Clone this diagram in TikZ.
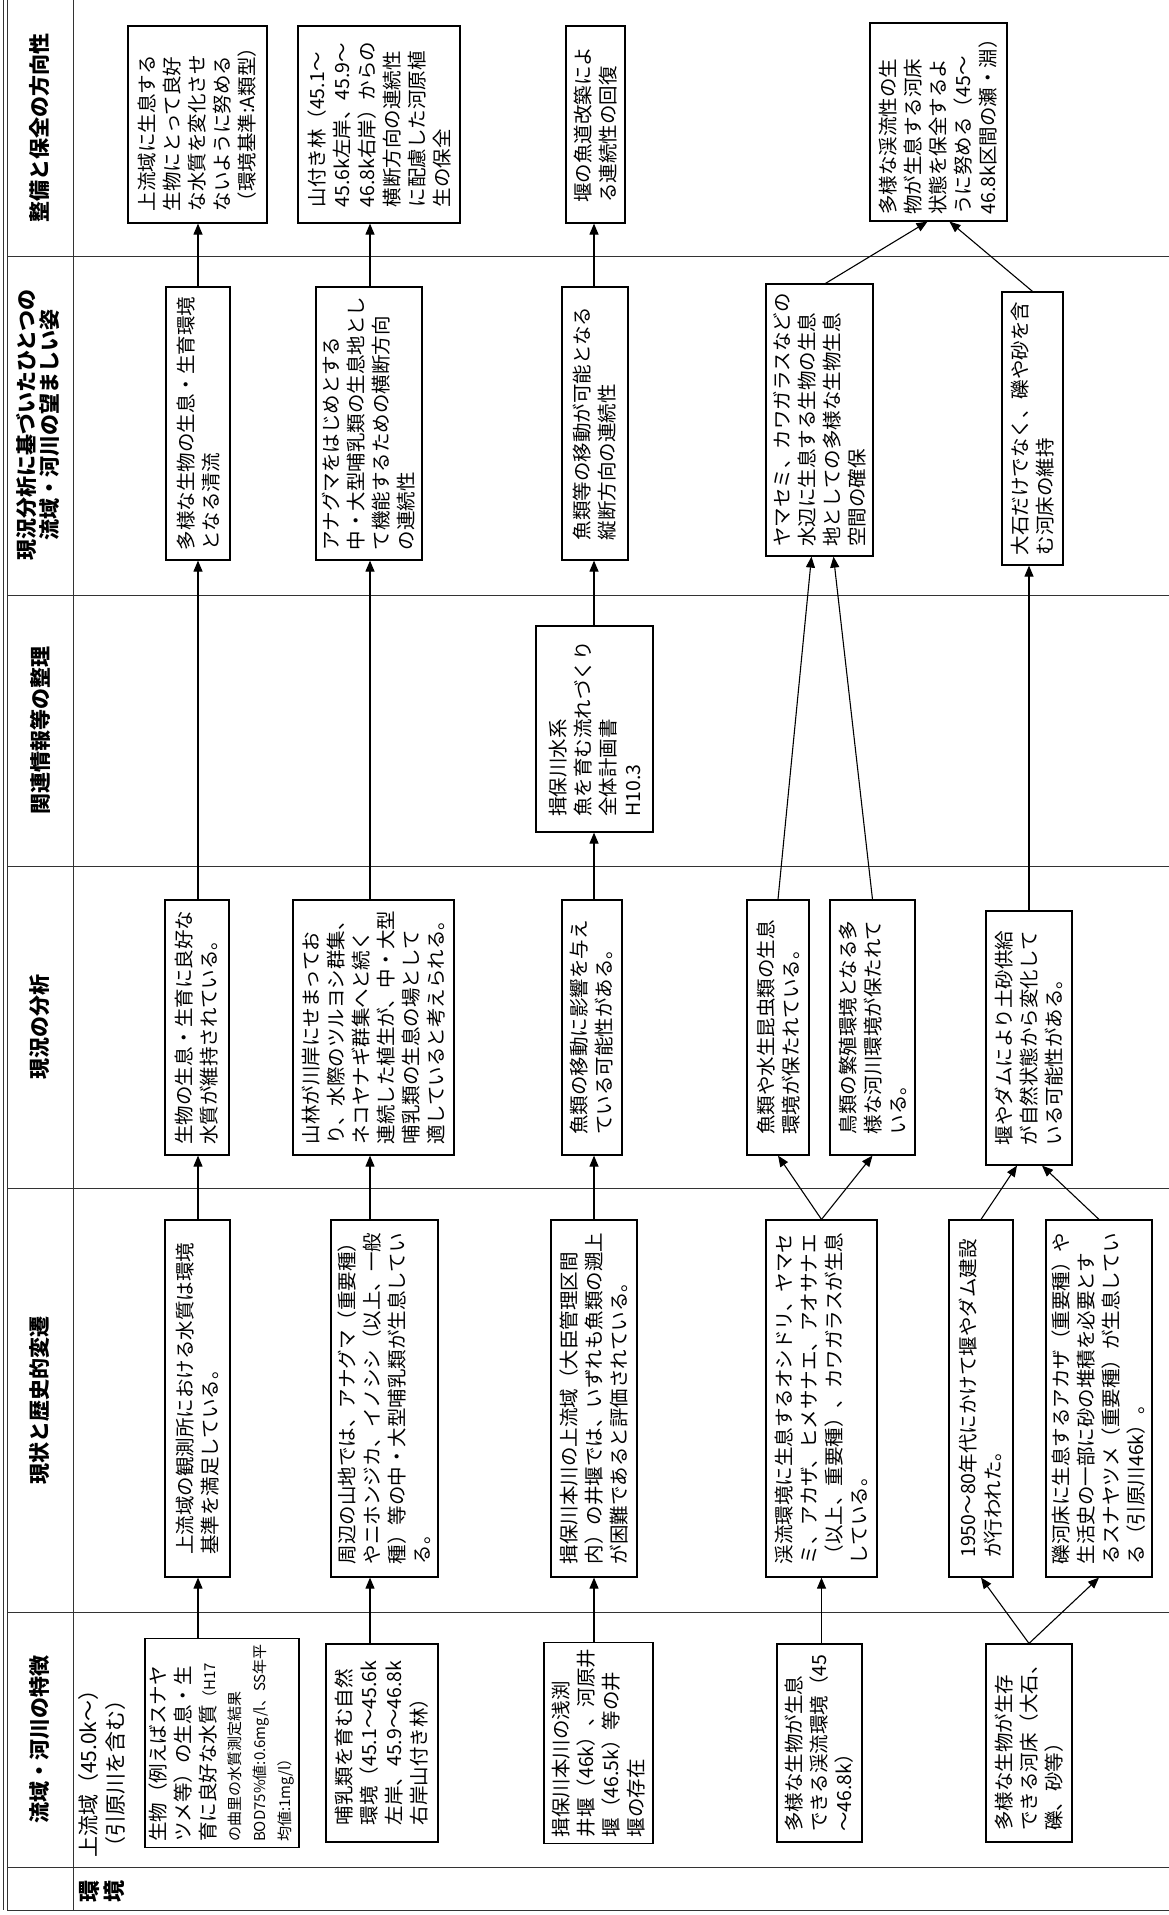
\documentclass[tikz,border=0pt]{standalone}
\usepackage{fontspec}
\setmainfont{Noto Sans CJK JP}
\usetikzlibrary{arrows.meta}
\newcommand{\bodyfont}{\fontsize{19.5}{25}\selectfont}
\newcommand{\notefont}{\fontsize{15}{25}\selectfont}
\newcommand{\headfont}{\fontsize{21}{23}\selectfont\bfseries}
\newcommand{\labelfont}{\fontsize{21}{27}\selectfont}

\begin{document}
\begin{tikzpicture}[x=1pt,y=1pt,
  rule/.style={line width=0.9pt,black!80},
  cell/.style={draw,line width=1.2pt,rotate=90,align=left,font=\bodyfont,inner xsep=6pt,inner ysep=2pt},
  head/.style={rotate=90,align=center,font=\headfont,inner sep=0pt},
  link/.style={line width=1.1pt,-{Triangle[length=11pt,width=9pt]}},
]

\useasboundingbox (0,-1915) rectangle (1169,0);

\draw[rule] (3,0) -- (3,-1910);
\draw[rule] (7,0) -- (7,-1910) -- (1169,-1910);
\draw[rule] (73,0) -- (73,-1910);
\foreach \ypos in {256,595,866,1188,1612,1867}
  \draw[rule] (7,-\ypos) -- (1169,-\ypos);

\node[head] (hdfeat) at (40,-1739) {流域・河川の特徴};
\node[head] (hdstate) at (40,-1400) {現状と歴史的変遷};
\node[head] (hdana) at (40,-1027) {現況の分析};
\node[head] (hdinfo) at (40,-730) {関連情報等の整理};
\node[head] (hdgoal) at (38,-425) {現況分析に基づいたひとつの\\流域・河川の望ましい姿};
\node[head] (hddir) at (40,-128) {整備と保全の方向性};
\node[head,font=\fontsize{22}{25}\selectfont\bfseries] (hdenv) at (102,-1891) {環\\境};

\node[rotate=90,anchor=north west,align=left,font=\labelfont,inner sep=0pt] (upper) at (78,-1858) {上流域（45.0k～）\\（引原川を含む）};

\coordinate (lane1) at (198,0);
\coordinate (lane2) at (370,0);
\coordinate (lane3) at (594,0);

\node[cell,minimum width=198pt,minimum height=154pt] (c1a) at (222,-1743) {生物（例えばスナヤ\\ツメ等）の生息・生\\育に良好な水質{\notefont（H17}\\{\notefont の曲里の水質測定結果}\\{\notefont BOD75\%値:0.6mg/l、SS年平}\\{\notefont 均値:1mg/l）}};
\node[cell,minimum width=198pt,minimum height=112pt] (c1b) at (382,-1743) {哺乳類を育む自然\\環境（45.1～45.6k\\左岸、45.9～46.8k\\右岸山付き林）};
\node[cell,minimum width=198pt,minimum height=109pt] (c1c) at (598.5,-1743) {揖保川本川の浅渕\\井堰（46k）、河原井\\堰（46.5k）等の井\\堰の存在};
\node[cell,minimum width=198pt,minimum height=85pt] (c1d) at (819.5,-1743) {多様な生物が生息\\できる渓流環境（45\\～46.8k）};
\node[cell,minimum width=198pt,minimum height=86pt] (c1e) at (1029,-1743) {多様な生物が生存\\できる河床（大石、\\礫、砂等）};

\node[cell,minimum width=357pt,minimum height=65pt] (c2a) at (197.5,-1398.5) {上流域の観測所における水質は環境\\基準を満足している。};
\node[cell,minimum width=357pt,minimum height=107pt] (c2b) at (384.5,-1398.5) {周辺の山地では、アナグマ（重要種）\\やニホンジカ、イノシシ（以上、一般\\種）等の中・大型哺乳類が生息してい\\る。};
\node[cell,minimum width=357pt,minimum height=86pt] (c2c) at (594,-1398.5) {揖保川本川の上流域（大臣管理区間\\内）の井堰では、いずれも魚類の遡上\\が困難であると評価されている。};
\node[cell,minimum width=357pt,minimum height=111pt] (c2d) at (821.5,-1398.5) {渓流環境に生息するオシドリ、ヤマセ\\ミ、アカザ、ヒメサナエ、アオサナエ\\（以上、重要種）、カワガラスが生息\\している。};
\node[cell,minimum width=357pt,minimum height=64pt] (c2e) at (981,-1398.5) {1950～80年代にかけて堰やダム建設\\が行われた。};
\node[cell,minimum width=357pt,minimum height=106pt] (c2f) at (1099,-1398.5) {礫河床に生息するアカザ（重要種）や\\生活史の一部に砂の堆積を必要とす\\るスナヤツメ（重要種）が生息してい\\る（引原川46k）。};

\node[cell,minimum width=255pt,minimum height=64pt] (c3a) at (197,-1027.5) {生物の生息・生育に良好な\\水質が維持されている。};
\node[cell,minimum width=255pt,minimum height=161pt] (c3b) at (373.5,-1027.5) {山林が川岸にせまってお\\り、水際のツルヨシ群集、\\ネコヤナギ群集へと続く\\連続した植生が、中・大型\\哺乳類の生息の場として\\適していると考えられる。};
\node[cell,minimum width=255pt,minimum height=60pt] (c3c) at (592,-1027.5) {魚類の移動に影響を与え\\ている可能性がある。};
\node[cell,minimum width=255pt,minimum height=62pt] (c3d) at (778,-1027.5) {魚類や水生昆虫類の生息\\環境が保たれている。};
\node[cell,minimum width=255pt,minimum height=85pt] (c3e) at (872.5,-1027.5) {鳥類の繁殖環境となる多\\様な河川環境が保たれて\\いる。};
\node[cell,minimum width=254pt,minimum height=86pt] (c3f) at (1029,-1038) {堰やダムにより土砂供給\\が自然状態から変化して\\いる可能性がある。};

\node[cell,minimum width=206pt,minimum height=117pt] (c4c) at (594.5,-729) {揖保川水系\\魚を育む流れづくり\\全体計画書\\H10.3};

\node[cell,minimum width=273pt,minimum height=64pt] (c5a) at (198,-423.5) {多様な生物の生息・生育環境\\となる清流};
\node[cell,minimum width=273pt,minimum height=106pt] (c5b) at (369,-423.5) {アナグマをはじめとする\\中・大型哺乳類の生息地とし\\て機能するための横断方向\\の連続性};
\node[cell,minimum width=273pt,minimum height=66pt] (c5c) at (595,-423.5) {魚類等の移動が可能となる\\縦断方向の連続性};
\node[cell,minimum width=272pt,minimum height=107pt] (c5d) at (819.5,-420) {ヤマセミ、カワガラスなどの\\水辺に生息する生物の生息\\地としての多様な生物生息\\空間の確保};
\node[cell,minimum width=273pt,minimum height=61pt] (c5e) at (1032.5,-428.5) {大石だけでなく、礫や砂を含\\む河床の維持};

\node[cell,minimum width=197pt,minimum height=139pt] (c6a) at (197.5,-124.5) {上流域に生息する\\生物にとって良好\\な水質を変化させ\\ないように努める\\（環境基準:A類型）};
\node[cell,minimum width=197pt,minimum height=162pt] (c6b) at (379,-124.5) {山付き林（45.1～\\45.6k左岸、45.9～\\46.8k右岸）からの\\横断方向の連続性\\に配慮した河原植\\生の保全};
\node[cell,minimum width=197pt,minimum height=59pt] (c6c) at (595.5,-124.5) {堰の魚道改築によ\\る連続性の回復};
\node[cell,minimum width=198pt,minimum height=137pt] (c6d) at (938.5,-122) {多様な渓流性の生\\物が生息する河床\\状態を保全するよ\\うに努める（45～\\46.8k区間の瀬・淵）};

\draw[link] (c1a.east -| lane1) -- (c2a.west -| lane1);
\draw[link] (c2a.east -| lane1) -- (c3a.west -| lane1);
\draw[link] (c3a.east -| lane1) -- (c5a.west -| lane1);
\draw[link] (c5a.east -| lane1) -- (c6a.west -| lane1);

\draw[link] (c1b.east -| lane2) -- (c2b.west -| lane2);
\draw[link] (c2b.east -| lane2) -- (c3b.west -| lane2);
\draw[link] (c3b.east -| lane2) -- (c5b.west -| lane2);
\draw[link] (c5b.east -| lane2) -- (c6b.west -| lane2);

\draw[link] (c1c.east -| lane3) -- (c2c.west -| lane3);
\draw[link] (c2c.east -| lane3) -- (c3c.west -| lane3);
\draw[link] (c3c.east -| lane3) -- (c4c.west -| lane3);
\draw[link] (c4c.east -| lane3) -- (c5c.west -| lane3);
\draw[link] (c5c.east -| lane3) -- (c6c.west -| lane3);

\draw[link] (c1d.east -| c2d.west) -- (c2d.west);
\draw[link] (c2d.east) -- (c3d.west);
\draw[link] (c2d.east) -- (c3e.west);
\draw[link] (c3d.east) -- ([xshift=-8pt]c5d.west);
\draw[link] (c3e.east) -- ([xshift=14pt]c5d.west);
\draw[link] ([xshift=6pt]c5d.east) -- ([xshift=-11pt]c6d.west);

\draw[link] (c1e.east) -- (c2e.west);
\draw[link] (c1e.east) -- (c2f.west);
\draw[link] (c2e.east) -- ([xshift=-12pt]c3f.west);
\draw[link] (c2f.east) -- ([xshift=13pt]c3f.west);
\draw[link] (c3f.east) -- (c3f.east |- c5e.west);
\draw[link] (c5e.east) -- ([xshift=11pt]c6d.west);

\end{tikzpicture}
\end{document}
